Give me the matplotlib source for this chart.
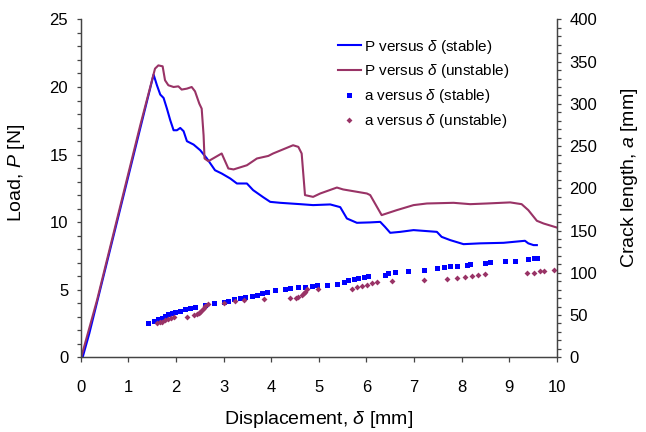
import numpy as np
import matplotlib.pyplot as plt

plt.rcParams['font.family'] = ['Liberation Sans', 'DejaVu Sans']
plt.rcParams['mathtext.fontset'] = 'custom'
plt.rcParams['mathtext.rm'] = 'Liberation Sans'
plt.rcParams['mathtext.it'] = 'Liberation Sans:italic'

######################################################################
# load-displacement curves

d_stable = [0.04, 0.18, 1.53, 1.60, 1.67, 1.74, 1.81, 1.88, 1.95, 2.02, 2.09,
            2.16, 2.23, 2.37, 2.51, 2.65, 2.82, 2.96, 3.14, 3.28, 3.49, 3.62,
            3.83, 3.98, 4.19, 4.61, 4.88, 5.24, 5.45, 5.59, 5.80, 6.08, 6.29,
            6.39, 6.50, 6.71, 6.99, 7.48, 7.58, 7.76, 8.04, 8.39, 8.88, 9.33,
            9.40, 9.51, 9.58]
P_stable = [0.0, 1.77, 20.92, 20.13, 19.44, 19.19, 18.40, 17.54, 16.80, 16.80,
            16.97, 16.73, 15.99, 15.74, 15.32, 14.71, 13.84, 13.60, 13.23,
            12.86, 12.86, 12.37, 11.85, 11.50, 11.43, 11.33, 11.26, 11.31,
            11.11, 10.27, 9.95, 9.98, 10.02, 9.65, 9.21, 9.28, 9.41, 9.28,
            8.91, 8.67, 8.37, 8.43, 8.47, 8.62, 8.43, 8.30, 8.30]

d_unstable = [0.01, 0.34, 1.25, 1.56, 1.63, 1.72, 1.77, 1.84, 1.95, 2.05, 2.12,
              2.23, 2.33, 2.40, 2.49, 2.54, 2.58, 2.60, 2.68, 2.96, 3.10, 3.21,
              3.49, 3.70, 3.94, 4.04, 4.46, 4.57, 4.64, 4.71, 4.88, 5.03, 5.38,
              5.51, 6.01, 6.08, 6.32, 6.64, 6.99, 7.27, 7.83, 8.18, 8.53, 9.02,
              9.26, 9.40, 9.58, 9.72, 10.0]
P_unstable = [0.0, 4.2, 17.17, 21.36, 21.60, 21.53, 20.50, 20.13, 20.00, 20.05,
              19.81, 19.88, 20.00, 19.68, 18.77, 18.40, 16.43, 14.71, 14.51,
              15.08, 13.97, 13.90, 14.21, 14.71, 14.90, 15.08, 15.69, 15.57,
              15.08, 12.00, 11.87, 12.12, 12.56, 12.42, 12.12, 12.00, 10.52,
              10.89, 11.26, 11.38, 11.43, 11.33, 11.38, 11.46, 11.33, 10.89,
              10.10, 9.90, 9.60]

######################################################################
# crack length measurements

da_stable = [1.42, 1.53, 1.63, 1.70, 1.77, 1.84, 1.91, 1.98, 2.09, 2.19, 2.30,
             2.40, 2.61, 2.79, 3.00, 3.10, 3.21, 3.35, 3.45, 3.59, 3.70, 3.80,
             3.91, 4.08, 4.29, 4.40, 4.57, 4.71, 4.85, 4.96, 5.17, 5.38, 5.52,
             5.62, 5.73, 5.83, 5.94, 6.04, 6.39, 6.46, 6.60, 6.88, 7.20, 7.48,
             7.62, 7.76, 7.90, 8.11, 8.18, 8.49, 8.60, 8.91, 9.12, 9.40, 9.51,
             9.58]
a_stable = [41.0, 43.0, 45.0, 46.9, 48.9, 50.9, 52.1, 53.7, 54.9, 56.9, 58.8,
            60.0, 62.0, 64.0, 65.9, 67.1, 69.1, 69.9, 71.1, 72.6, 73.8, 75.8,
            77.7, 79.7, 80.6, 81.8, 82.9, 83.6, 84.5, 85.7, 85.7, 86.8, 89.6,
            91.6, 92.4, 93.6, 94.8, 96.3, 97.5, 100.2, 101.4, 102.6, 103.4,
            105.5, 106.6, 108.2, 108.2, 109.4, 110.2, 112.1, 113.3, 114.1,
            114.5, 116.1, 117.3, 118.0]

da_unstable = [1.60, 1.66, 1.70, 1.77, 1.84, 1.90, 1.95, 2.23, 2.37, 2.44,
               2.48, 2.51, 2.54, 2.58, 2.61, 2.68, 3.00, 3.24, 3.42, 3.84, 4.40,
               4.52, 4.57, 4.64, 4.68, 4.71, 4.75, 4.99, 5.69, 5.80, 5.90, 6.01,
               6.11, 6.22, 6.53, 7.20, 7.69, 7.90, 8.07, 8.21, 8.35, 8.49, 9.37,
               9.51, 9.64, 9.72, 9.93]
a_unstable = [41.0, 41.6, 42.2, 44.2, 45.4, 46.3, 47.4, 48.1, 50.1, 51.3, 52.6,
              54.0, 56.0, 58.1, 60.8, 62.8, 64.7, 67.1, 67.9, 68.7, 69.9, 70.5,
              71.1, 73.8, 75.6, 77.7, 80.6, 80.6, 80.6, 82.9, 84.5, 85.7, 87.7,
              89.6, 90.8, 91.6, 92.4, 93.6, 94.8, 96.3, 97.5, 98.3, 99.5, 100.2,
              102.2, 102.6, 103.4]

blue = '#0000ff'
red = '#993366'
axis_col = '#444444'

fig = plt.figure(figsize=(6.46, 4.32), dpi=100)
ax = fig.add_axes([0.125, 0.173, 0.737, 0.782])
ax2 = ax.twinx()

l1, = ax.plot(d_stable, P_stable, color=blue, lw=1.5, label=r'P versus $\delta$ (stable)')
l2, = ax.plot(d_unstable, P_unstable, color=red, lw=1.5, label=r'P versus $\delta$ (unstable)')
s1, = ax2.plot(da_stable, a_stable, 's', color=blue, ms=3.6, mew=0, label=r'a versus $\delta$ (stable)')
s2, = ax2.plot(da_unstable, a_unstable, 'D', color=red, ms=3.0, mew=0, label=r'a versus $\delta$ (unstable)')

ax.set_xlim(0, 10)
ax.set_ylim(0, 25)
ax2.set_ylim(0, 400)
ax.set_xticks(np.arange(0, 11, 1))
ax.set_yticks(np.arange(0, 26, 5))
ax.set_yticks(np.arange(0, 26, 1), minor=True)
ax2.set_yticks(np.arange(0, 401, 50))
ax2.set_yticks(np.arange(0, 401, 10), minor=True)

for a in (ax, ax2):
    a.spines['top'].set_visible(False)
    for s in a.spines.values():
        s.set_color(axis_col)
        s.set_linewidth(0.9)
    a.tick_params(which='both', direction='out', color=axis_col, width=0.9, length=3, labelsize=12)
ax.tick_params(axis='x', length=3.5, pad=13)
ax.tick_params(axis='y', pad=6)
ax2.tick_params(axis='y', pad=6)

ax.set_xlabel(r'Displacement, $\delta$ [mm]', fontsize=14)
ax.set_ylabel(r'Load, $P$ [N]', fontsize=14)
ax2.set_ylabel(r'Crack length, $a$ [mm]', fontsize=14)
ax.xaxis.set_label_coords(0.5, -0.153)
ax.yaxis.set_label_coords(-0.113, 0.545)
ax2.yaxis.set_label_coords(1.13, 0.53)

ax2.legend(handles=[l1, l2, s1, s2], loc='upper left', bbox_to_anchor=(0.523, 0.913),
           bbox_transform=fig.transFigure, frameon=False, fontsize=11,
           handlelength=1.5, handletextpad=0.2, borderpad=0, borderaxespad=0,
           labelspacing=0.45, numpoints=1)

fig.savefig('out.png', dpi=100)
